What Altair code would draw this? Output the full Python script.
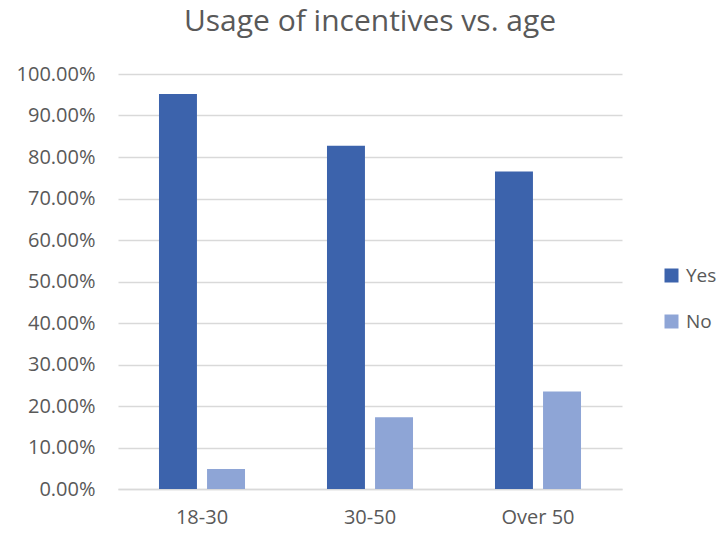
import altair as alt
import pandas as pd

# Share of respondents using incentives, by age group
age_groups = ["18-30", "30-50", "Over 50"]
yes_share = [0.952, 0.827, 0.765]
no_share = [0.048, 0.173, 0.235]
answers = ["Yes", "No"]
y_ticks = [i / 10 for i in range(11)]

rows = []
for g, y, n in zip(age_groups, yes_share, no_share):
    rows.append({"age": g, "answer": "Yes", "share": y})
    rows.append({"age": g, "answer": "No", "share": n})
df = pd.DataFrame(rows)

FONT = "Open Sans"
GREY = "#595959"
LABEL_SIZE = 20

bars = alt.Chart(df).mark_bar().encode(
    x=alt.X(
        "age:N",
        sort=age_groups,
        scale=alt.Scale(paddingInner=0.488, paddingOuter=0.244),
        axis=alt.Axis(
            title=None, labelAngle=0, ticks=False, domain=True,
            domainColor="#d9d9d9", domainWidth=1.3,
            labelFont=FONT, labelFontSize=LABEL_SIZE, labelColor=GREY,
            labelPadding=18,
        ),
    ),
    xOffset=alt.XOffset(
        "answer:N", sort=answers,
        scale=alt.Scale(paddingInner=0.21, paddingOuter=0),
    ),
    y=alt.Y(
        "share:Q",
        scale=alt.Scale(domain=[0, 1]),
        axis=alt.Axis(
            title=None, format=".2%", values=y_ticks,
            labelOverlap=False,
            ticks=False, domain=False,
            grid=True, gridColor="#d9d9d9", gridWidth=1.3,
            labelFont=FONT, labelFontSize=LABEL_SIZE, labelColor=GREY,
            labelPadding=23,
        ),
    ),
    color=alt.Color(
        "answer:N", sort=answers,
        scale=alt.Scale(domain=answers, range=["#3C63AC", "#8EA5D6"]),
        legend=alt.Legend(
            title=None, orient="none", legendX=544, legendY=192,
            symbolType="square", symbolSize=196, symbolStrokeWidth=0,
            labelFont=FONT, labelFontSize=19, labelColor=GREY,
            rowPadding=26, labelOffset=5,
        ),
    ),
)

chart = bars.properties(
    width=504,
    height=415,
    autosize=alt.AutoSizeParams(type="none"),
    padding={"left": 118, "top": 74, "right": 99, "bottom": 44},
    title=alt.TitleParams(
        "Usage of incentives vs. age",
        font=FONT, fontSize=30, fontWeight="normal", color=GREY,
        anchor="middle", offset=27,
    ),
).configure(background="white").configure_view(stroke=None)

chart.save("out.html", embed_options={"renderer": "svg", "actions": False})
